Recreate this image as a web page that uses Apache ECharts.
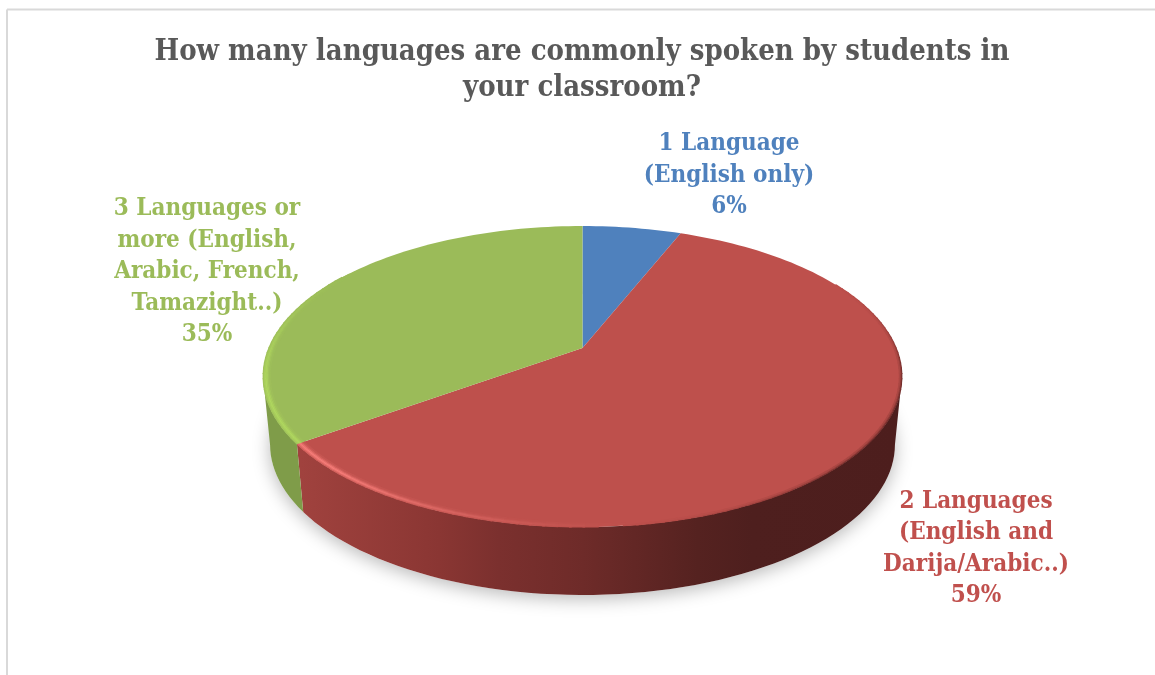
<!DOCTYPE html>
<html>
<head>
<meta charset="utf-8">
<script src="https://cdn.jsdelivr.net/npm/echarts@6/dist/echarts.min.js"></script>
<style>html,body{margin:0;padding:0;background:#fff}#chart{width:1155px;height:675px}</style>
</head>
<body>
<div id="chart"></div>
<script>
// Survey answers, in clockwise order starting from twelve o'clock
var categories = ['1 Language\n(English only)', '2 Languages\n(English and\nDarija/Arabic..)', '3 Languages or\nmore (English,\nArabic, French,\nTamazight..)'];
var shares = [6, 59, 35];
var faceColors = ['#4f81bd', '#be504c', '#9bbb59'];
var labelColors = ['#4f81bd', '#c0504d', '#9bbb59'];
var labelAnchors = [[729, 175.5], [976, 549], [207, 272]];

var titleText = 'How many languages are commonly spoken by students in\nyour classroom?';
var fontFamily = '"DejaVu Serif Condensed","Liberation Serif",serif';

// Perspective disc: unit circle (u right, v toward the viewer) projected about its apex
var apex = { x: 582.5, y: 348 };
var tilt = 0.1894, spreadX = 313.7, spreadY = 145.1;
var wallDrop = 68, baseNarrow = 0.978;
var horizonAngle = Math.acos(-tilt) * 180 / Math.PI;

function project(deg, r) {
  var t = deg * Math.PI / 180;
  var u = r * Math.sin(t), v = -r * Math.cos(t);
  var d = 1 - tilt * v;
  return [apex.x + spreadX * u / d, apex.y + spreadY * v / d];
}
function projectBase(deg) {
  var p = project(deg, 1);
  return [apex.x + (p[0] - apex.x) * baseNarrow, p[1] + wallDrop];
}
function sweep(a, b, step, fn) {
  var out = [];
  var n = Math.max(1, Math.ceil((b - a) / step));
  for (var i = 0; i <= n; i++) out.push(fn(a + (b - a) * i / n));
  return out;
}
function mix(c1, c2, t) {
  var p = function (c, i) { return parseInt(c.substr(1 + i * 2, 2), 16); };
  var parts = [0, 1, 2].map(function (i) { return Math.round(p(c1, i) + (p(c2, i) - p(c1, i)) * t); });
  return 'rgb(' + parts.join(',') + ')';
}
function stops(list) {
  return list.map(function (s) { return { offset: s[0], color: s[1] }; });
}
// Raised-cosine weight around a centre angle
function bump(deg, centre, halfWidth) {
  var d = Math.abs(deg - centre);
  return d >= halfWidth ? 0 : 0.5 + 0.5 * Math.cos(d / halfWidth * Math.PI);
}

var total = shares.reduce(function (a, b) { return a + b; }, 0);
var rimTints = {
  '#4f81bd': ['#8fb6e6', '#2f5480'],
  '#be504c': ['#f97f7b', '#5a2321'],
  '#9bbb59': ['#b0d85f', '#6f8a3c']
};
var wallFills = [
  null,
  [[0, '#a0423e'], [0.23, '#8a3633'], [0.33, '#7b302e'], [0.47, '#6e2b29'], [0.66, '#552220'], [0.75, '#4e1f1e'], [1, '#4d1e1d']],
  [[0, '#7f9c49'], [1, '#83a04c']]
];

function renderSlice(params, api) {
  var idx = params.dataIndex;
  var before = 0;
  for (var i = 0; i < idx; i++) before += shares[i];
  var start = before / total * 360;
  var end = (before + api.value(0)) / total * 360;
  var face = faceColors[idx];
  var children = [];

  // Ground shadow under the whole disc, painted with the first slice
  if (idx === 0) {
    children.push({
      type: 'polygon',
      shape: { points: sweep(0, 360, 3, projectBase) },
      style: { fill: '#ffffff', shadowBlur: 18, shadowColor: 'rgba(0,0,0,0.28)', shadowOffsetX: 0, shadowOffsetY: 4 }
    });
  }

  // Outer wall, only where it faces the viewer
  var a = Math.max(start, horizonAngle), b = Math.min(end, 360 - horizonAngle);
  if (b > a && wallFills[idx]) {
    var upper = sweep(a, b, 2, function (d) { return project(d, 1); });
    var lower = sweep(a, b, 2, projectBase).reverse();
    children.push({
      type: 'polygon',
      shape: { points: upper.concat(lower) },
      style: { fill: new echarts.graphic.LinearGradient(301, 0, 902, 0, stops(wallFills[idx]), true) }
    });
  }

  // Top face
  var rim = sweep(start, end, 1.5, function (d) { return project(d, 1); });
  children.push({
    type: 'polygon',
    shape: { points: [[apex.x, apex.y]].concat(rim) },
    style: { fill: face }
  });

  // Bevel along the rim: bright toward the lower left, dark on the right flank
  var lightRings = [[0.999, 0.35], [0.995, 0.7], [0.991, 0.95], [0.987, 0.7], [0.983, 0.35], [0.979, 0.12]];
  var darkRings = [[0.999, 0.75], [0.996, 0.45], [0.993, 0.2]];
  var tints = rimTints[face];
  var strokeRing = function (ring, weightAt, tint) {
    var step = 2;
    for (var d = start; d < end - 0.01; d += step) {
      var next = Math.min(d + step, end);
      var strength = ring[1] * weightAt((d + next) / 2);
      if (strength < 0.02) continue;
      children.push({
        type: 'polyline',
        shape: { points: [project(d, ring[0]), project(Math.min(next + 0.4, end), ring[0])] },
        style: { stroke: mix(face, tint, strength), lineWidth: 1.6, fill: null }
      });
    }
  };
  lightRings.forEach(function (ring) {
    strokeRing(ring, function (d) { return Math.min(1, bump(d, 240, 72) * 1.15); }, tints[0]);
  });
  darkRings.forEach(function (ring) {
    strokeRing(ring, function (d) { return Math.min(1, bump(d, 118, 62) * 1.2); }, tints[1]);
  });

  // Slice caption and its percentage
  children.push({
    type: 'text',
    style: {
      text: categories[idx] + '\n' + api.value(0) + '%',
      x: labelAnchors[idx][0],
      y: labelAnchors[idx][1],
      align: 'center',
      verticalAlign: 'middle',
      lineHeight: 31.5,
      fill: labelColors[idx],
      font: 'bold 24px ' + fontFamily
    }
  });

  return { type: 'group', children: children };
}

var chart = echarts.init(document.getElementById('chart'), null, { renderer: 'canvas' });
chart.setOption({
  animation: false,
  backgroundColor: '#ffffff',
  title: {
    text: titleText,
    left: 577,
    top: 29,
    textAlign: 'center',
    textStyle: { fontFamily: fontFamily, fontWeight: 'bold', fontSize: 29, lineHeight: 36.5, color: '#595959' }
  },
  graphic: [
    { type: 'line', silent: true, shape: { x1: 7, y1: 9.5, x2: 1155, y2: 9.5 }, style: { stroke: '#d9d9d9', lineWidth: 2 } },
    { type: 'line', silent: true, shape: { x1: 7, y1: 9.5, x2: 7, y2: 675 }, style: { stroke: '#d9d9d9', lineWidth: 2 } }
  ],
  series: [{
    type: 'custom',
    coordinateSystem: 'none',
    silent: true,
    renderItem: renderSlice,
    data: shares.map(function (v) { return [v]; })
  }]
});
</script>
</body>
</html>
